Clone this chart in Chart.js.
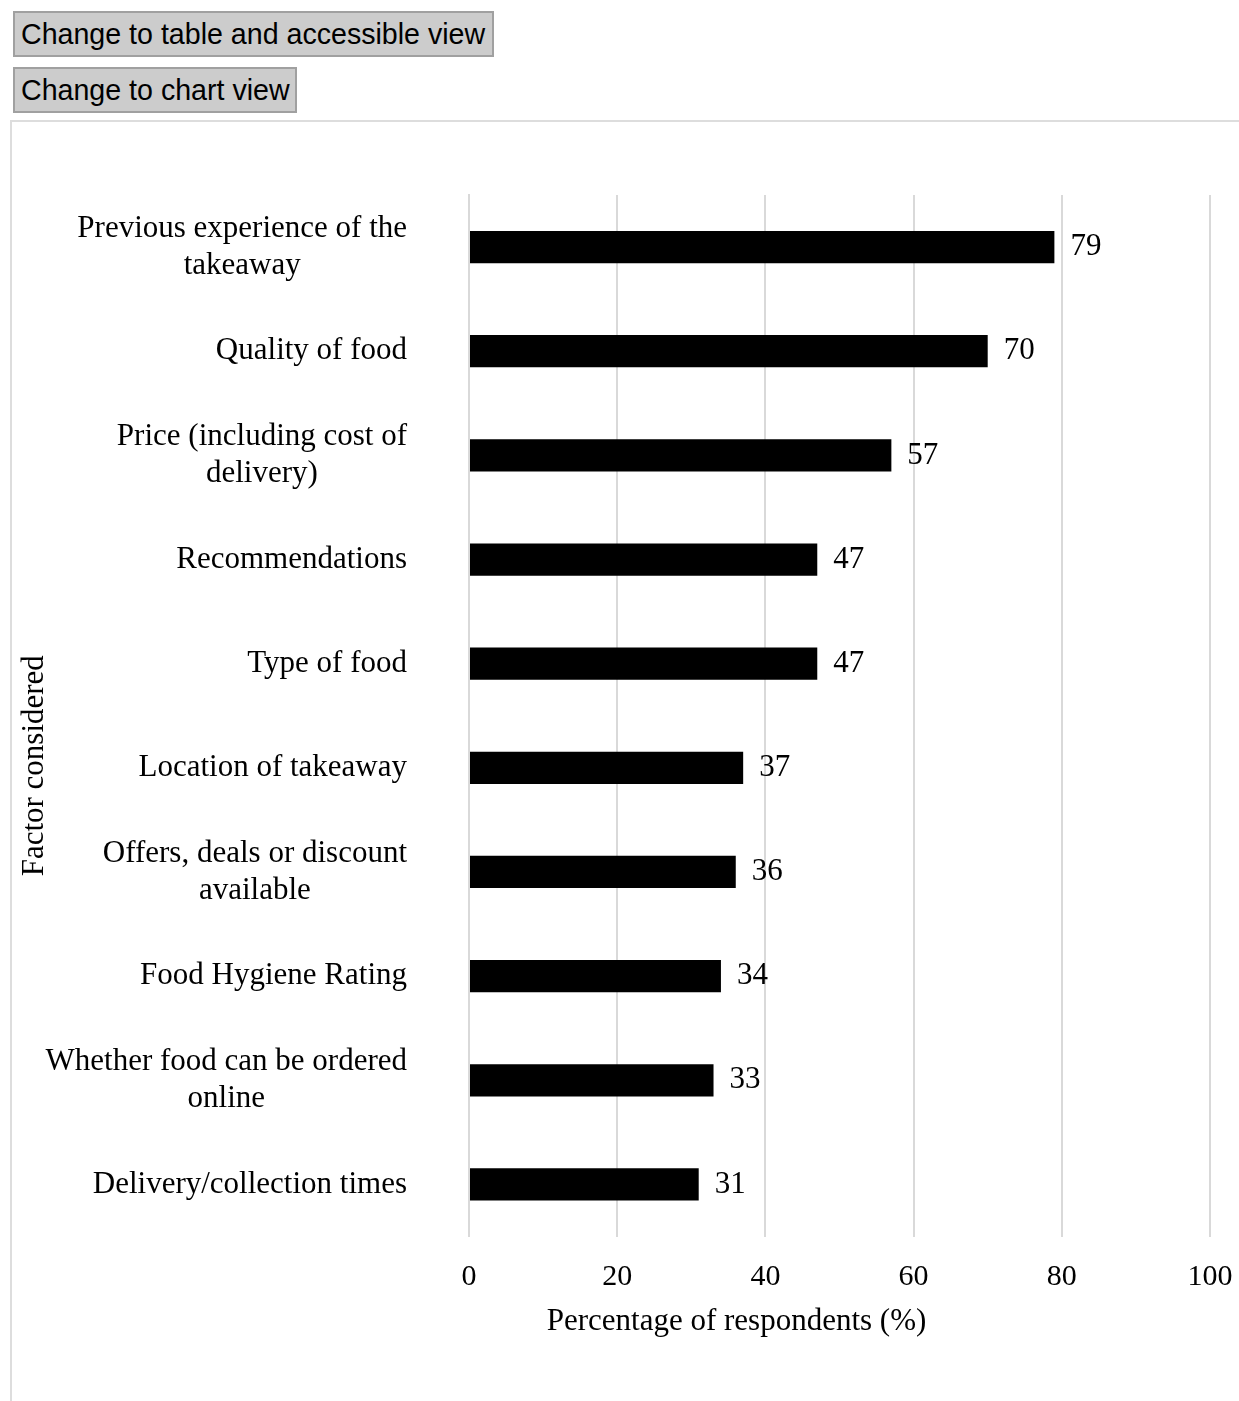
<!DOCTYPE html>
<html>
<head>
<meta charset="utf-8">
<script src="https://cdn.jsdelivr.net/npm/chart.js@4/dist/chart.umd.min.js"></script>
<style>
  html, body { margin: 0; padding: 0; background: #fff; overflow: hidden; }
  body { width: 1239px; height: 1401px; position: relative; }
  .btn {
    position: absolute; left: 13px; height: 46px; box-sizing: border-box;
    background: #cccccc; border: 2px solid #a0a0a0; color: #000;
    font-family: "Liberation Sans", Arial, sans-serif; font-size: 28.6px;
    line-height: 42px; padding: 0 6px; white-space: nowrap;
  }
  #b1 { top: 11px; width: 481px; }
  #b2 { top: 67px; width: 284px; }
  #box {
    position: absolute; left: 10px; top: 120px; width: 1229px; height: 1281px;
    border-top: 2px solid #dddddd; border-left: 2px solid #dddddd; box-sizing: border-box;
  }
  #wrap { position: absolute; left: 12px; top: 122px; width: 1227px; height: 1279px; }
</style>
</head>
<body>
<div class="btn" id="b1">Change to table and accessible view</div>
<div class="btn" id="b2">Change to chart view</div>
<div id="box"></div>
<div id="wrap"><canvas id="c"></canvas></div>
<script>
const categories = [
  ['Previous experience of the', 'takeaway'],
  ['Quality of food'],
  ['Price (including cost of', 'delivery)'],
  ['Recommendations'],
  ['Type of food'],
  ['Location of takeaway'],
  ['Offers, deals or discount', 'available'],
  ['Food Hygiene Rating'],
  ['Whether food can be ordered', 'online'],
  ['Delivery/collection times']
];
const percentages = [79, 70, 57, 47, 47, 37, 36, 34, 33, 31];
const xTicks = [0, 20, 40, 60, 80, 100];
const xTitle = 'Percentage of respondents (%)';
const yTitle = 'Factor considered';

const SERIF = '"Liberation Serif", "Times New Roman", serif';
const FS = 31;
const TICK_FS = 30;

const labelPlugin = {
  id: 'customLabels',
  afterDraw(chart) {
    const ctx = chart.ctx;
    const yScale = chart.scales.y;
    const xScale = chart.scales.x;
    const area = chart.chartArea;
    ctx.save();
    ctx.font = FS + 'px ' + SERIF;
    ctx.fillStyle = '#000';
    ctx.textBaseline = 'middle';
    // category labels: block right-aligned, lines centered within block
    const rightEdge = area.left - 62;
    const lineH = 37;
    categories.forEach((lines, i) => {
      const y = yScale.getPixelForTick(i);
      const w = Math.max(...lines.map(l => ctx.measureText(l).width));
      const cx = rightEdge - w / 2;
      ctx.textAlign = 'center';
      lines.forEach((l, j) => {
        ctx.fillText(l, cx, y + (j - (lines.length - 1) / 2) * lineH);
      });
    });
    // y-axis title
    ctx.save();
    ctx.translate(yScale.left + 23, (area.top + area.bottom) / 2 + 50);
    ctx.rotate(-Math.PI / 2);
    ctx.textAlign = 'center';
    ctx.fillText(yTitle, 0, 0);
    ctx.restore();
    // x-axis title
    ctx.textAlign = 'center';
    ctx.fillText(xTitle, (area.left + area.right) / 2 - 103, xScale.bottom + 26.6);
    // data labels
    const meta = chart.getDatasetMeta(0);
    ctx.textAlign = 'left';
    meta.data.forEach((bar, i) => {
      ctx.fillText(String(percentages[i]), bar.x + 16, bar.y);
    });
    ctx.restore();
  }
};

new Chart(document.getElementById('c'), {
  type: 'bar',
  data: {
    labels: categories,
    datasets: [{
      data: percentages,
      backgroundColor: '#000000',
      borderWidth: 0,
      barPercentage: 0.31,
      categoryPercentage: 1.0
    }]
  },
  options: {
    indexAxis: 'y',
    responsive: true,
    maintainAspectRatio: false,
    animation: false,
    events: [],
    layout: { autoPadding: false, padding: { top: 73, right: 29, bottom: 106, left: 0 } },
    plugins: { legend: { display: false }, tooltip: { enabled: false } },
    scales: {
      x: {
        min: 0, max: 100,
        afterBuildTicks(scale) { scale.ticks = xTicks.map(v => ({ value: v })); },
        grid: { color: '#d9d9d9', lineWidth: 2, drawTicks: true, tickLength: 22.5, tickColor: 'rgba(0,0,0,0)' },
        border: { display: false },
        ticks: { color: '#000', padding: 0, font: { family: SERIF, size: TICK_FS } },
        title: { display: false, text: xTitle }
      },
      y: {
        grid: { display: false, drawTicks: false },
        border: { display: true, color: '#d9d9d9', width: 2 },
        ticks: { display: false },
        afterFit(scale) { scale.width = 457; }
      }
    }
  },
  plugins: [labelPlugin]
});
</script>
</body>
</html>
